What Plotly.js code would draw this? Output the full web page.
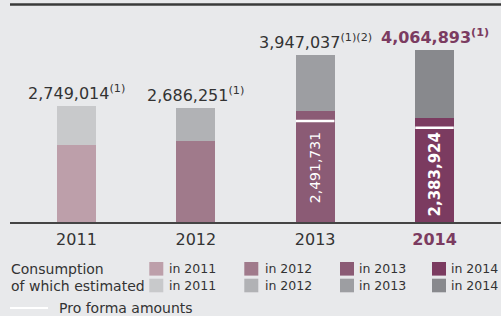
<!DOCTYPE html>
<html>
<head>
<meta charset="utf-8">
<script src="https://cdn.plot.ly/plotly-3.0.1.min.js"></script>
<style>
html,body{margin:0;padding:0;background:#e8e9eb;}
#chart{width:501px;height:316px;}
</style>
</head>
<body>
<div id="chart"></div>
<script>
// ---- data ----
const years = ['2011', '2012', '2013', '2014'];
const consumption = [1820000, 1914000, 2623000, 2465000];
const estimated = [929014, 772251, 1324037, 1599893];
const totals = [2749014, 2686251, 3947037, 4064893];
const totalLabels = ['2,749,014', '2,686,251', '3,947,037', '4,064,893'];
const totalNotes = ['(1)', '(1)', '(1)(2)', '(1)'];
const proForma = [null, null, 2387000, 2229000];
const proFormaLabels = ['', '', '2,491,731', '2,383,924'];
const legendRows = ['Consumption', 'of which estimated'];
const legendYears = ['in 2011', 'in 2012', 'in 2013', 'in 2014'];
const proFormaName = 'Pro forma amounts';

// ---- styles ----
const consColors = ['#bd9faa', '#a07a8b', '#8b5b75', '#7b3b60'];
const estColors = ['#c8c9cb', '#b1b2b5', '#9d9ea2', '#88898d'];
const accent = '#7b3b60';
const txt = '#333333';
const FONT = 'DejaVu Sans';
const BG = '#e8e9eb';

const W = 501, H = 316;
const ML = 10, MR = 0, MT = 4, MB = 94;
const PW = W - ML - MR, PH = H - MT - MB;
const px = v => (v - ML) / PW;
const py = v => (H - MB - v) / PH;

const xi = years.map((_, i) => i);

const traces = [
  {type: 'bar', x: xi, y: consumption, width: 0.327,
   marker: {color: consColors, line: {width: 0}}, hoverinfo: 'skip', showlegend: false},
  {type: 'bar', x: xi, y: estimated, width: 0.327,
   marker: {color: estColors, line: {width: 0}}, hoverinfo: 'skip', showlegend: false},
  {type: 'scatter', mode: 'markers', x: xi, y: proForma,
   marker: {symbol: 'line-ew', size: 27.5, color: '#ffffff', line: {color: '#ffffff', width: 2.5}},
   hoverinfo: 'skip', showlegend: false, cliponaxis: false}
];

const annotations = [];
years.forEach((y, i) => {
  const last = i === years.length - 1;
  annotations.push({
    x: i, y: totals[i], xref: 'x', yref: 'y', xanchor: 'center', yanchor: 'bottom', yshift: 1,
    showarrow: false,
    text: (last ? '<b>' : '') + totalLabels[i] + '<sup>' + totalNotes[i] + '</sup>' + (last ? '</b>' : ''),
    font: {family: FONT, size: 16, color: last ? accent : txt}
  });
});
const inY = [null, null, 1276000, 1111000];
years.forEach((y, i) => {
  if (!proFormaLabels[i]) return;
  const last = i === years.length - 1;
  annotations.push({
    x: i, y: inY[i], xref: 'x', yref: 'y', xanchor: 'center', yanchor: 'middle',
    showarrow: false, textangle: -90,
    text: last ? '<b>' + proFormaLabels[i] + '</b>' : proFormaLabels[i],
    font: {family: FONT, size: last ? 15 : 14, color: '#ffffff'}
  });
});
// legend text
const rowY = [268.8, 285.5];
legendRows.forEach((r, k) => {
  annotations.push({x: px(9), y: py(rowY[k]), xref: 'paper', yref: 'paper', xanchor: 'left', yanchor: 'middle',
    showarrow: false, text: r, font: {family: FONT, size: 14, color: txt}});
});
const swX = [149.3, 244.3, 340, 432];
const txX = [167, 263, 357, 449];
const shapes = [];
legendYears.forEach((t, c) => {
  [0, 1].forEach(k => {
    annotations.push({x: px(txX[c]), y: py(rowY[k]), xref: 'paper', yref: 'paper', xanchor: 'left', yanchor: 'middle',
      showarrow: false, text: t, font: {family: FONT, size: 12.5, color: txt}});
    shapes.push({type: 'rect', xref: 'paper', yref: 'paper',
      x0: px(swX[c]), x1: px(swX[c] + 14), y0: py(rowY[k] - 6.8), y1: py(rowY[k] + 6.8),
      fillcolor: k === 0 ? consColors[c] : estColors[c], line: {width: 0}});
  });
});
annotations.push({x: px(57), y: py(307.5), xref: 'paper', yref: 'paper', xanchor: 'left', yanchor: 'middle',
  showarrow: false, text: proFormaName, font: {family: FONT, size: 14, color: txt}});
shapes.push({type: 'line', xref: 'paper', yref: 'paper', x0: px(10), x1: px(48), y0: py(308), y1: py(308),
  line: {color: '#ffffff', width: 2}});
// top rule
shapes.push({type: 'line', xref: 'paper', yref: 'paper', x0: 0, x1: 1, y0: py(4.5), y1: py(4.5),
  line: {color: '#3a3a3a', width: 2.5}});

const tickText = years.map((y, i) => i === years.length - 1
  ? '<b><span style="color:' + accent + '">' + y + '</span></b>' : y);

const layout = {
  width: W, height: H,
  margin: {l: ML, r: MR, t: MT, b: MB, pad: 0},
  paper_bgcolor: BG, plot_bgcolor: BG,
  barmode: 'stack',
  showlegend: false,
  font: {family: FONT, color: txt},
  xaxis: {range: [-0.557, 3.557], tickvals: xi, ticktext: tickText, showgrid: false, zeroline: false,
    showline: true, linecolor: '#444444', linewidth: 1.5,
    ticks: 'outside', ticklen: 2, tickcolor: 'rgba(0,0,0,0)',
    tickfont: {family: FONT, size: 16, color: txt}, fixedrange: true},
  yaxis: {range: [0, 5152000], visible: false, showgrid: false, zeroline: false, fixedrange: true},
  annotations: annotations,
  shapes: shapes
};

Plotly.newPlot('chart', traces, layout, {staticPlot: true, displayModeBar: false});
</script>
</body>
</html>
